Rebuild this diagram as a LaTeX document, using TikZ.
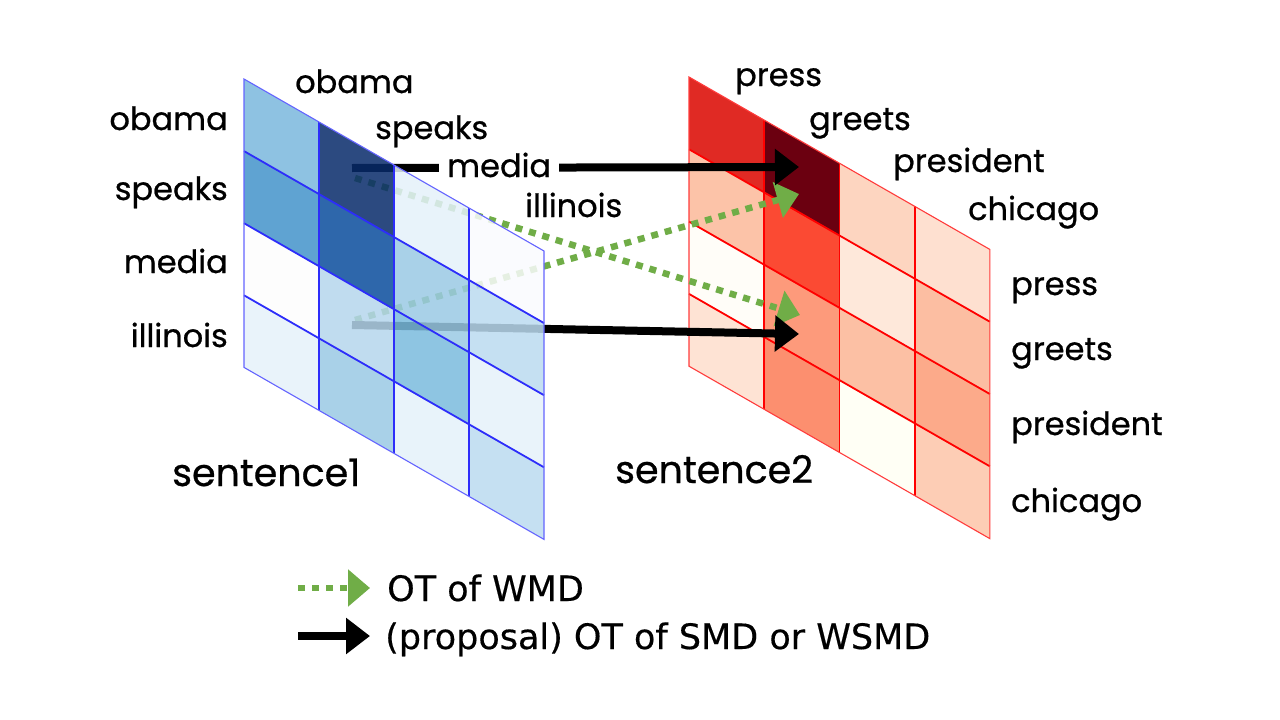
\documentclass[tikz,border=0pt]{standalone}
\usepackage{fontspec}
\setmainfont{Poppins}
\newfontfamily\labfont{Poppins}[FakeBold=0.7]
\newfontfamily\legendfont{DejaVu Sans}[FakeBold=0.4]
\usetikzlibrary{arrows.meta}
% left grid (blue), colours compensated for fill opacity 0.85
\definecolor{b11}{RGB}{123,184,221}
\definecolor{b12}{RGB}{8,43,106}
\definecolor{b13}{RGB}{228,241,250}
\definecolor{b14}{RGB}{250,251,254}
\definecolor{b21}{RGB}{67,147,203}
\definecolor{b22}{RGB}{10,77,157}
\definecolor{b23}{RGB}{155,202,228}
\definecolor{b24}{RGB}{187,219,240}
\definecolor{b31}{RGB}{253,253,253}
\definecolor{b32}{RGB}{181,214,237}
\definecolor{b33}{RGB}{123,187,222}
\definecolor{b34}{RGB}{230,242,250}
\definecolor{b41}{RGB}{230,242,250}
\definecolor{b42}{RGB}{155,202,229}
\definecolor{b43}{RGB}{228,241,250}
\definecolor{b44}{RGB}{187,219,240}
% right grid (red)
\definecolor{r11}{HTML}{E02A24}
\definecolor{r12}{HTML}{6B0010}
\definecolor{r13}{HTML}{FDD5C0}
\definecolor{r14}{HTML}{FEE0D0}
\definecolor{r21}{HTML}{FCC3A8}
\definecolor{r22}{HTML}{FB4A33}
\definecolor{r23}{HTML}{FEE8DA}
\definecolor{r24}{HTML}{FCBEA2}
\definecolor{r31}{HTML}{FFFDF8}
\definecolor{r32}{HTML}{FD9A7B}
\definecolor{r33}{HTML}{FCC0A4}
\definecolor{r34}{HTML}{FCAA8A}
\definecolor{r41}{HTML}{FEE3D4}
\definecolor{r42}{HTML}{FC8F6F}
\definecolor{r43}{HTML}{FFFFF5}
\definecolor{r44}{HTML}{FDCDB5}
\definecolor{bline}{RGB}{45,45,250}
\definecolor{bborder}{RGB}{100,100,255}
\definecolor{rline}{RGB}{255,0,0}
\definecolor{rborder}{RGB}{255,60,60}
\definecolor{ogreen}{RGB}{112,173,71}
\begin{document}
\begin{tikzpicture}[x=1pt,y=-1pt,
  lab/.style={font=\labfont\fontsize{32}{32}\selectfont, inner sep=0pt},
  sent/.style={font=\labfont\fontsize{38}{38}\selectfont, inner sep=0pt},
  leg/.style={font=\legendfont\fontsize{35}{35}\selectfont, inner sep=0pt, anchor=base west},
  blk/.style={line width=8pt, -{Triangle[length=24pt,width=35pt]}, black},
  grn/.style={line width=6.5pt, dash pattern=on 7pt off 7pt, -{Triangle[length=22pt,width=36pt]}, ogreen},
  cellline/.style={line width=1.8pt},
  border/.style={line width=1.1pt},
]
\useasboundingbox (0,0) rectangle (1280,720);
\fill[white] (0,0) rectangle (1280,720);

% ---------- right grid (sentence2) ----------
\begin{scope}[shift={(689,77)}, x={(75.2pt,-43.1pt)}, y={(0pt,-72.3pt)}]
  \foreach \r in {1,2,3,4} {
    \foreach \c in {1,2,3,4} {
      \fill[r\r\c] (\c-1,\r-1) -- (\c,\r-1) -- (\c,\r) -- (\c-1,\r) -- cycle;
    }
  }
  \foreach \i in {1,2,3} {
    \draw[cellline, rline] (\i,0) -- (\i,4);
    \draw[cellline, rline] (0,\i) -- (4,\i);
  }
  \draw[border, rborder] (0,0) -- (4,0) -- (4,4) -- (0,4) -- cycle;
\end{scope}

% ---------- arrow end points ----------
\coordinate (a1s) at (352,168);
\coordinate (a1e) at (799,167);
\coordinate (a2s) at (352,325);
\coordinate (a2e) at (799,334);
\coordinate (g1s) at (355,178);
\coordinate (g1e) at (800,315);
\coordinate (g2s) at (355,320);
\coordinate (g2e) at (799,194);

\draw[grn] (g1s) -- (g1e);
\draw[grn] (g2s) -- (g2e);
\draw[blk] (a1s) -- (a1e);
\draw[blk] (a2s) -- (a2e);

% ---------- left grid (sentence1) ----------
\begin{scope}[shift={(244,79)}, x={(75pt,-43pt)}, y={(0pt,-72.1pt)}]
  \foreach \r in {1,2,3,4} {
    \foreach \c in {1,2,3,4} {
      \fill[b\r\c, fill opacity=0.85] (\c-1,\r-1) -- (\c,\r-1) -- (\c,\r) -- (\c-1,\r) -- cycle;
    }
  }
  \foreach \i in {1,2,3} {
    \draw[cellline, bline] (\i,0) -- (\i,4);
    \draw[cellline, bline] (0,\i) -- (4,\i);
  }
  \draw[border, bborder] (0,0) -- (4,0) -- (4,4) -- (0,4) -- cycle;
\end{scope}

% ---------- labels, sentence1 ----------
\node[lab, anchor=base east] (l1r1) at (228,130) {obama};
\node[lab, anchor=base east] (l1r2) at (228,200) {speaks};
\node[lab, anchor=base east] (l1r3) at (228,273) {media};
\node[lab, anchor=base east] (l1r4) at (228,347) {illinois};
\node[lab, anchor=base west] (l1c1) at (295,93) {obama};
\node[lab, anchor=base west] (l1c2) at (375,139) {speaks};
\node[lab, anchor=base west, fill=white, inner xsep=8pt, inner ysep=3pt] (l1c3) at (439,177) {media};
\node[lab, anchor=base west] (l1c4) at (525,217) {illinois};
\node[sent, anchor=base west] (s1) at (172,486) {sentence1};

% ---------- labels, sentence2 ----------
\node[lab, anchor=base west] (l2c1) at (735,86) {press};
\node[lab, anchor=base west] (l2c2) at (809,130) {greets};
\node[lab, anchor=base west] (l2c3) at (893,172) {president};
\node[lab, anchor=base west] (l2c4) at (968,220) {chicago};
\node[lab, anchor=base west] (l2r1) at (1011,295) {press};
\node[lab, anchor=base west] (l2r2) at (1011,360) {greets};
\node[lab, anchor=base west] (l2r3) at (1011,435) {president};
\node[lab, anchor=base west] (l2r4) at (1011,512) {chicago};
\node[sent, anchor=base west] (s2) at (615,483) {sentence2};

% ---------- legend ----------
\coordinate (k1s) at (298,588);
\coordinate (k1e) at (370,588);
\coordinate (k2s) at (298,636);
\coordinate (k2e) at (370,636);
\draw[grn] (k1s) -- (k1e);
\draw[blk] (k2s) -- (k2e);
\node[leg] (t1) at (387,601) {OT of WMD};
\node[leg] (t2) at (385,649) {(proposal) OT of SMD or WSMD};
\end{tikzpicture}
\end{document}
